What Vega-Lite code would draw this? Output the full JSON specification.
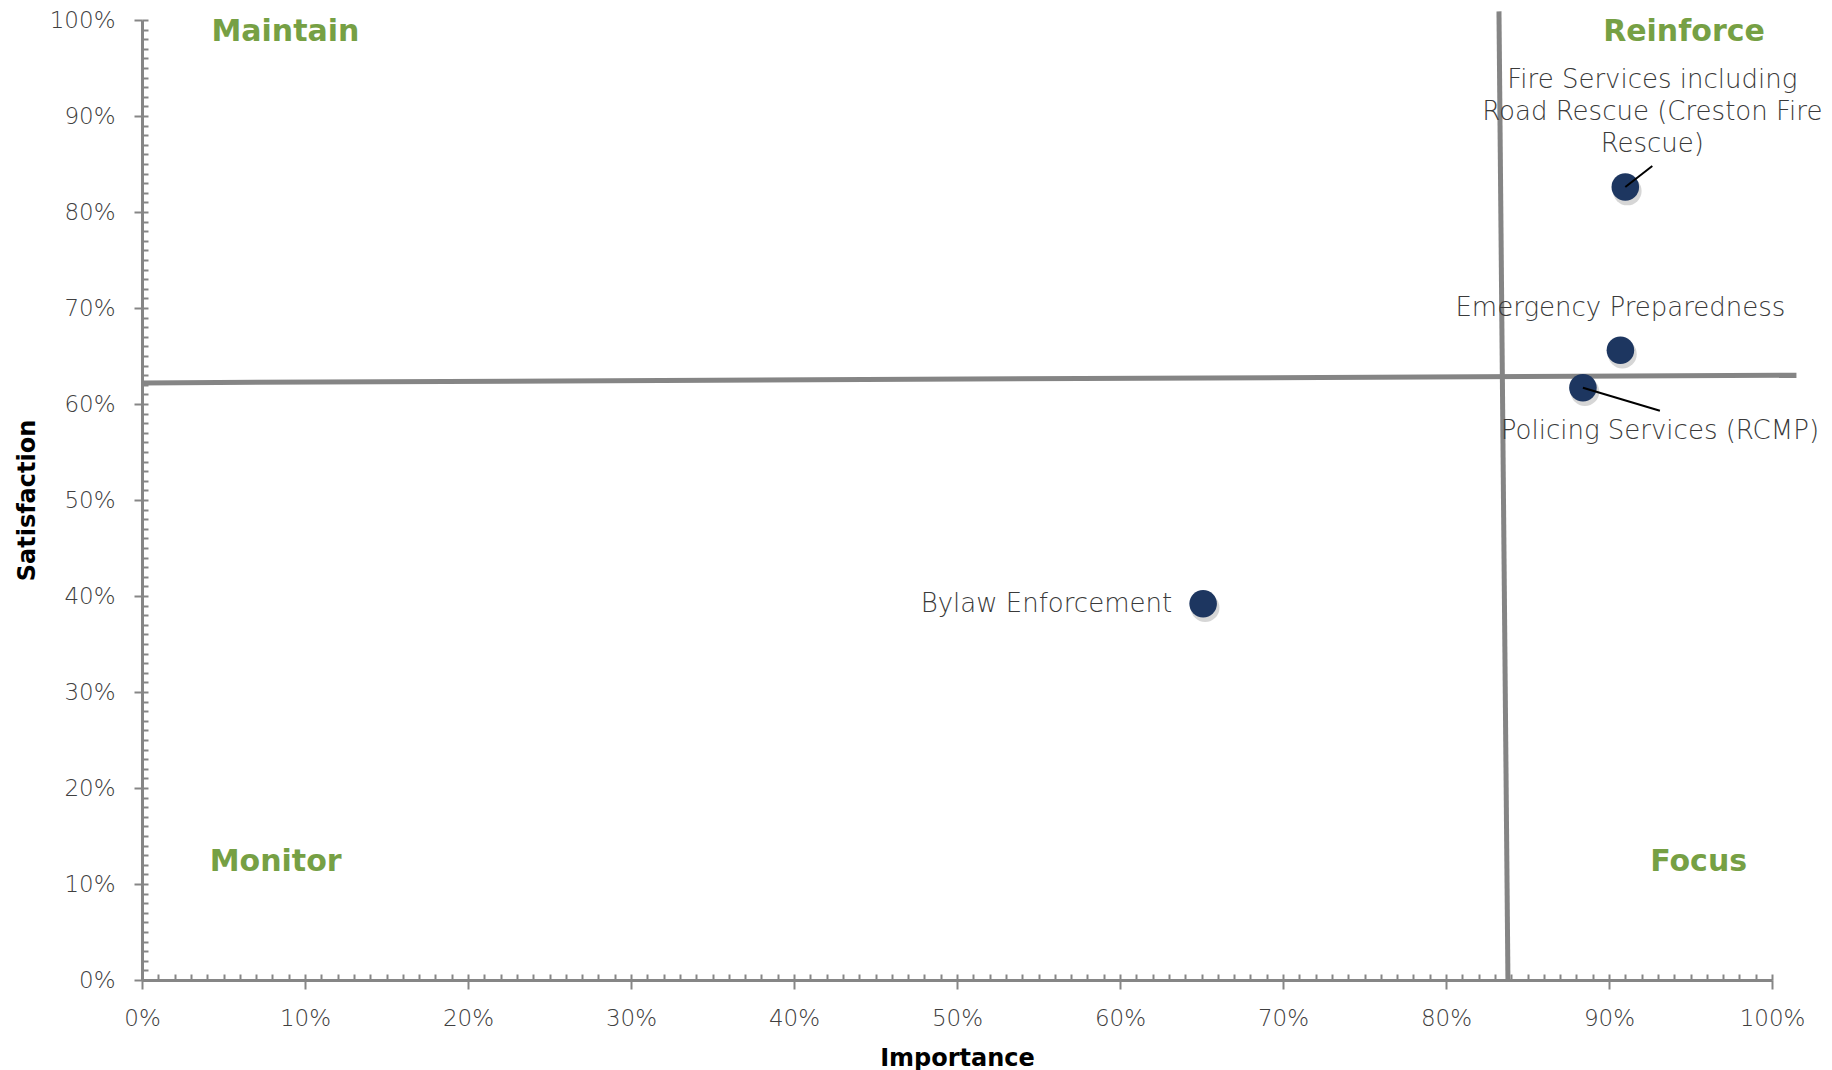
{
  "$schema": "https://vega.github.io/schema/vega-lite/v6.json",
  "width": 1630,
  "height": 960,
  "autosize": "none",
  "padding": {"left": 142, "top": 20, "right": 60, "bottom": 90},
  "background": "white",
  "config": {"view": {"stroke": null}, "font": "DejaVu Sans"},
  "datasets": {
    "services": [
      {"service": "Fire Services including\nRoad Rescue (Creston Fire\nRescue)", "importance": 0.910, "satisfaction": 0.826},
      {"service": "Emergency Preparedness", "importance": 0.907, "satisfaction": 0.656},
      {"service": "Policing Services (RCMP)", "importance": 0.884, "satisfaction": 0.617},
      {"service": "Bylaw Enforcement", "importance": 0.651, "satisfaction": 0.392}
    ],
    "dividers": [
      {"importance": 0.0, "satisfaction": 0.622, "importance2": 1.015, "satisfaction2": 0.630},
      {"importance": 0.8325, "satisfaction": 1.009, "importance2": 0.838, "satisfaction2": 0.0}
    ],
    "quadrants": [
      {"quadrant": "Maintain", "importance": 0.088, "satisfaction": 0.9875},
      {"quadrant": "Reinforce", "importance": 0.946, "satisfaction": 0.9875},
      {"quadrant": "Monitor", "importance": 0.082, "satisfaction": 0.123},
      {"quadrant": "Focus", "importance": 0.955, "satisfaction": 0.123}
    ]
  },
  "resolve": {"axis": {"x": "independent", "y": "independent"}},
  "layer": [
    {
      "data": {"name": "services"},
      "mark": {"type": "circle", "color": "#8a8a8a", "opacity": 0.35, "size": 820, "xOffset": 2, "yOffset": 4},
      "encoding": {
        "x": {"field": "importance", "type": "quantitative", "scale": {"domain": [0, 1], "nice": false},
          "axis": {"orient": "bottom", "tickCount": 100, "tickSize": -6, "tickWidth": 2, "tickColor": "#868686", "labels": false, "domain": false, "grid": false, "title": null}},
        "y": {"field": "satisfaction", "type": "quantitative", "scale": {"domain": [0, 1], "nice": false},
          "axis": {"orient": "left", "tickCount": 100, "tickSize": -6, "tickWidth": 2, "tickColor": "#868686", "labels": false, "domain": false, "grid": false, "title": null}}
      }
    },
    {
      "data": {"name": "dividers"},
      "mark": {"type": "rule", "color": "#858585", "strokeWidth": 5},
      "encoding": {
        "x": {"field": "importance", "type": "quantitative", "scale": {"domain": [0, 1], "nice": false}, "axis": null},
        "y": {"field": "satisfaction", "type": "quantitative", "scale": {"domain": [0, 1], "nice": false}, "axis": null},
        "x2": {"field": "importance2"},
        "y2": {"field": "satisfaction2"}
      }
    },
    {
      "data": {"name": "services"},
      "mark": {"type": "circle", "color": "#1d3660", "opacity": 1, "size": 760},
      "encoding": {
        "x": {"field": "importance", "type": "quantitative", "scale": {"domain": [0, 1], "nice": false},
          "axis": {"orient": "bottom", "values": [0, 0.1, 0.2, 0.3, 0.4, 0.5, 0.6, 0.7, 0.8, 0.9, 1], "format": ".0%",
            "tickSize": 9, "tickWidth": 2, "tickColor": "#868686", "domainColor": "#868686", "domainWidth": 3,
            "labelFontSize": 23, "labelColor": "#404040", "labelPadding": 18, "labelFontWeight": 300, "labelFlush": false, "labelOverlap": false,
            "grid": false, "title": "Importance", "titleFontSize": 24, "titleFontWeight": "bold", "titleColor": "#000000", "titlePadding": 16}},
        "y": {"field": "satisfaction", "type": "quantitative", "scale": {"domain": [0, 1], "nice": false},
          "axis": {"orient": "left", "values": [0, 0.1, 0.2, 0.3, 0.4, 0.5, 0.6, 0.7, 0.8, 0.9, 1], "format": ".0%",
            "tickSize": 8, "tickWidth": 2, "tickColor": "#868686", "domainColor": "#868686", "domainWidth": 3,
            "labelFontSize": 23, "labelColor": "#404040", "labelPadding": 19, "labelFontWeight": 300, "labelFlush": false, "labelOverlap": false,
            "grid": false, "title": "Satisfaction", "titleFontSize": 24, "titleFontWeight": "bold", "titleColor": "#000000", "titlePadding": 10}}
      }
    },
    {
      "data": {"name": "services"},
      "transform": [{"filter": "datum.service === 'Policing Services (RCMP)'"}],
      "mark": {"type": "rule", "color": "#000000", "strokeWidth": 2, "x2Offset": 77, "y2Offset": 23},
      "encoding": {
        "x": {"field": "importance", "type": "quantitative", "scale": {"domain": [0, 1], "nice": false}, "axis": null},
        "y": {"field": "satisfaction", "type": "quantitative", "scale": {"domain": [0, 1], "nice": false}, "axis": null},
        "x2": {"field": "importance"},
        "y2": {"field": "satisfaction"}
      }
    },
    {
      "data": {"name": "services"},
      "transform": [{"filter": "indexof(datum.service, 'Fire Services') === 0"}],
      "mark": {"type": "rule", "color": "#000000", "strokeWidth": 2, "x2Offset": 27, "y2Offset": -21},
      "encoding": {
        "x": {"field": "importance", "type": "quantitative", "scale": {"domain": [0, 1], "nice": false}, "axis": null},
        "y": {"field": "satisfaction", "type": "quantitative", "scale": {"domain": [0, 1], "nice": false}, "axis": null},
        "x2": {"field": "importance"},
        "y2": {"field": "satisfaction"}
      }
    },
    {
      "data": {"name": "services"},
      "transform": [{"filter": "indexof(datum.service, 'Fire Services') === 0"}],
      "mark": {"type": "text", "fontSize": 26, "fontWeight": 300, "color": "#3a3a3a", "align": "center", "baseline": "middle", "lineBreak": "\n", "lineHeight": 32, "dx": 27, "dy": -107},
      "encoding": {
        "x": {"field": "importance", "type": "quantitative", "scale": {"domain": [0, 1], "nice": false}, "axis": null},
        "y": {"field": "satisfaction", "type": "quantitative", "scale": {"domain": [0, 1], "nice": false}, "axis": null},
        "text": {"field": "service"}
      }
    },
    {
      "data": {"name": "services"},
      "transform": [{"filter": "datum.service === 'Emergency Preparedness'"}],
      "mark": {"type": "text", "fontSize": 26, "fontWeight": 300, "color": "#3a3a3a", "align": "center", "baseline": "middle", "dx": 0, "dy": -42},
      "encoding": {
        "x": {"field": "importance", "type": "quantitative", "scale": {"domain": [0, 1], "nice": false}, "axis": null},
        "y": {"field": "satisfaction", "type": "quantitative", "scale": {"domain": [0, 1], "nice": false}, "axis": null},
        "text": {"field": "service"}
      }
    },
    {
      "data": {"name": "services"},
      "transform": [{"filter": "datum.service === 'Policing Services (RCMP)'"}],
      "mark": {"type": "text", "fontSize": 26, "fontWeight": 300, "color": "#3a3a3a", "align": "center", "baseline": "middle", "dx": 77, "dy": 43},
      "encoding": {
        "x": {"field": "importance", "type": "quantitative", "scale": {"domain": [0, 1], "nice": false}, "axis": null},
        "y": {"field": "satisfaction", "type": "quantitative", "scale": {"domain": [0, 1], "nice": false}, "axis": null},
        "text": {"field": "service"}
      }
    },
    {
      "data": {"name": "services"},
      "transform": [{"filter": "datum.service === 'Bylaw Enforcement'"}],
      "mark": {"type": "text", "fontSize": 26, "fontWeight": 300, "color": "#3a3a3a", "align": "right", "baseline": "middle", "dx": -31, "dy": 0},
      "encoding": {
        "x": {"field": "importance", "type": "quantitative", "scale": {"domain": [0, 1], "nice": false}, "axis": null},
        "y": {"field": "satisfaction", "type": "quantitative", "scale": {"domain": [0, 1], "nice": false}, "axis": null},
        "text": {"field": "service"}
      }
    },
    {
      "data": {"name": "quadrants"},
      "mark": {"type": "text", "fontSize": 30, "fontWeight": "bold", "color": "#76a044", "align": "center", "baseline": "middle"},
      "encoding": {
        "x": {"field": "importance", "type": "quantitative", "scale": {"domain": [0, 1], "nice": false}, "axis": null},
        "y": {"field": "satisfaction", "type": "quantitative", "scale": {"domain": [0, 1], "nice": false}, "axis": null},
        "text": {"field": "quadrant"}
      }
    }
  ]
}
